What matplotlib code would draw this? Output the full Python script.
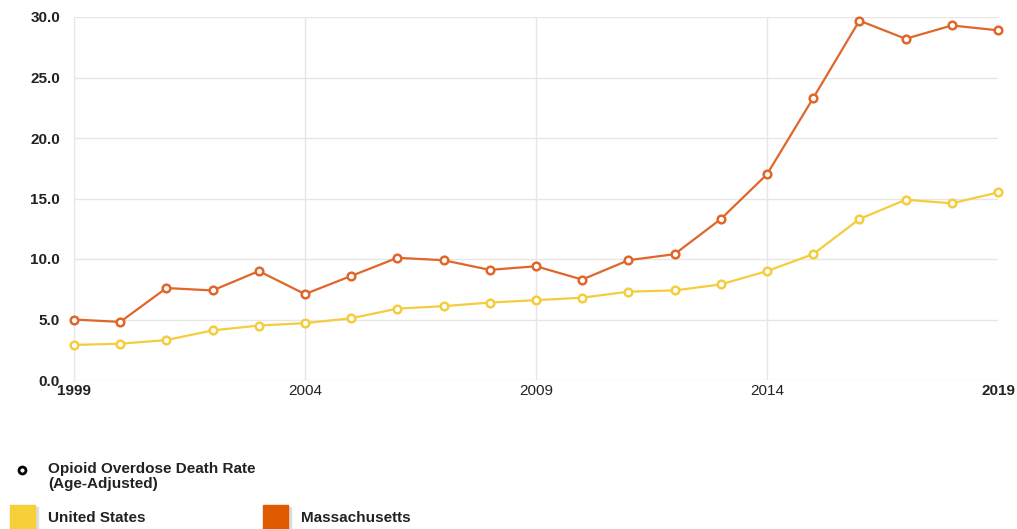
import matplotlib.pyplot as plt
from matplotlib.patches import Rectangle

plt.rcParams['font.family'] = ['Liberation Sans', 'DejaVu Sans']

# Opioid overdose death rate (age-adjusted), per 100k
years = list(range(1999, 2020))
us_rate = [2.9, 3.0, 3.3, 4.1, 4.5, 4.7, 5.1, 5.9, 6.1, 6.4, 6.6, 6.8, 7.3, 7.4,
           7.9, 9.0, 10.4, 13.3, 14.9, 14.6, 15.5]
ma_rate = [5.0, 4.8, 7.6, 7.4, 9.0, 7.1, 8.6, 10.1, 9.9, 9.1, 9.4, 8.3, 9.9, 10.4,
           13.3, 17.0, 23.3, 29.7, 28.2, 29.3, 28.9]
x_ticks = [1999, 2004, 2009, 2014, 2019]
y_ticks = [0, 5, 10, 15, 20, 25, 30]

us_color = '#f5cd3c'
ma_color = '#e0662a'

W, H = 1017, 529
fig = plt.figure(figsize=(W / 100, H / 100), dpi=100)
ax = fig.add_axes([74 / W, (H - 380) / H, (998 - 74) / W, (380 - 17) / H])

ax.plot(years, us_rate, color=us_color, lw=1.6, marker='o', ms=5.5,
        mfc='white', mec=us_color, mew=1.8, zorder=3, clip_on=False)
ax.plot(years, ma_rate, color=ma_color, lw=1.6, marker='o', ms=5.5,
        mfc='white', mec=ma_color, mew=1.8, zorder=4, clip_on=False)

ax.set_xlim(1999, 2019)
ax.set_ylim(0, 30)
ax.set_xticks(x_ticks)
ax.set_yticks(y_ticks)
ax.set_yticklabels([f'{v:.1f}' for v in y_ticks], fontweight='bold')
ax.set_xticklabels([str(v) for v in x_ticks])
for i, lab in enumerate(ax.get_xticklabels()):
    if i in (0, len(x_ticks) - 1):
        lab.set_fontweight('bold')
ax.tick_params(axis='both', length=0, labelsize=11, colors='#222222')
ax.tick_params(axis='y', pad=10)
ax.tick_params(axis='x', pad=3)

ax.grid(True, color='#e6e6e6', lw=1)
ax.set_axisbelow(True)
# no vertical line on the right edge
ax.get_xgridlines()[-1].set_visible(False)
for s in ('top', 'right', 'bottom'):
    ax.spines[s].set_visible(False)
ax.spines['left'].set_color('#e6e6e6')

# legend block at bottom
fig.lines.append(plt.Line2D([22 / W], [(H - 470) / H], marker='o', ms=5,
                            mfc='white', mec='black', mew=2,
                            transform=fig.transFigure))
fig.text(48 / W, (H - 462) / H, 'Opioid Overdose Death Rate\n(Age-Adjusted)',
         fontsize=11, fontweight='bold', va='top', ha='left', color='#222222',
         linespacing=1.05)

for x0, color, label in [(10, '#f7d037', 'United States'), (263, '#e05a00', 'Massachusetts')]:
    fig.patches.append(Rectangle(((x0 + 3) / W, 0), 25 / W, (H - 507) / H,
                                 transform=fig.transFigure, color='#dddddd'))
    fig.patches.append(Rectangle((x0 / W, 0), 25 / W, (H - 505) / H,
                                 transform=fig.transFigure, color=color))
    fig.text((x0 + 38) / W, (H - 518) / H, label, fontsize=11, fontweight='bold',
             va='center', ha='left', color='#222222')

fig.savefig('out.png', dpi=100)
